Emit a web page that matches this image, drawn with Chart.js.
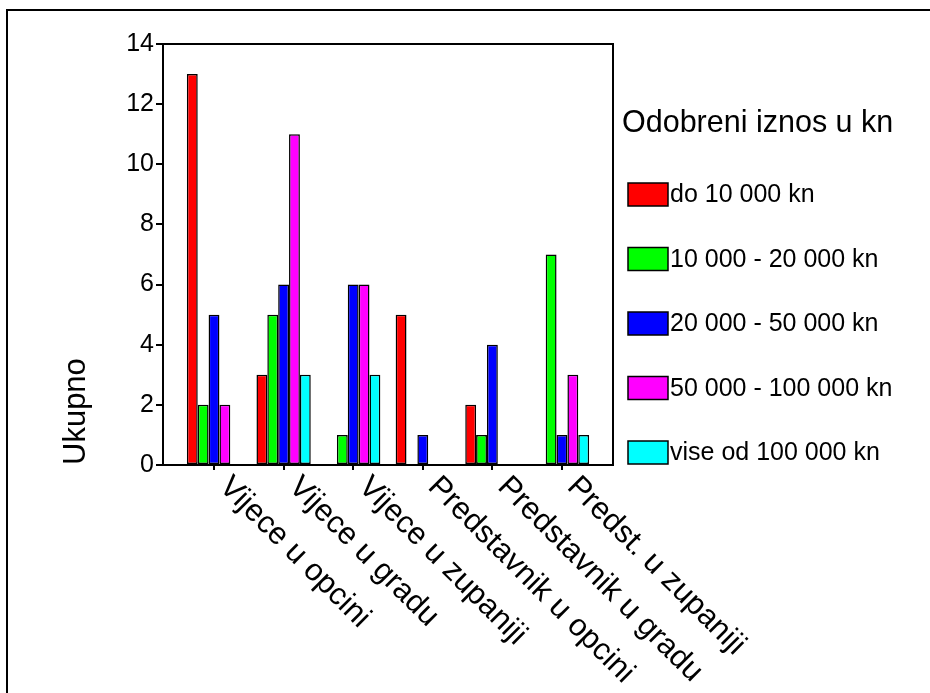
<!DOCTYPE html>
<html>
<head>
<meta charset="utf-8">
<title>Odobreni iznos u kn</title>
<script src="https://cdn.jsdelivr.net/npm/chart.js@4.4.1/dist/chart.umd.min.js"></script>
<style>
  html, body { margin: 0; padding: 0; background: #fff; }
</style>
</head>
<body>
<canvas id="chart" width="930" height="693"></canvas>
<script>
// categories and series
const categories = ['Vijece u opcini', 'Vijece u gradu', 'Vijece u zupaniji', 'Predstavnik u opcini', 'Predstavnik u gradu', 'Predst. u zupaniji'];
const seriesNames = ['do 10 000 kn', '10 000 - 20 000 kn', '20 000 - 50 000 kn', '50 000 - 100 000 kn', 'vise od 100 000 kn'];
const upTo10k = [13, 3, 0, 5, 2, 0];
const from10kTo20k = [2, 5, 1, 0, 1, 7];
const from20kTo50k = [5, 6, 6, 1, 4, 1];
const from50kTo100k = [2, 11, 6, 0, 0, 3];
const over100k = [0, 3, 3, 0, 0, 1];
const yTicks = [0, 2, 4, 6, 8, 10, 12, 14];
const legendTitle = 'Odobreni iznos u kn';
const yTitle = 'Ukupno';

const seriesValues = [upTo10k, from10kTo20k, from20kTo50k, from50kTo100k, over100k];
const colors = ['#ff0000', '#00ff00', '#0000ff', '#ff00ff', '#00ffff'];
const FONT = '"Liberation Sans", Arial, sans-serif';

Chart.defaults.color = '#000';
Chart.defaults.font.family = FONT;

// frame, slanted category labels and the legend box on the right
const decorPlugin = {
  id: 'decor',
  beforeDraw(chart) {
    const ctx = chart.ctx;
    ctx.save();
    ctx.strokeStyle = '#000';
    ctx.lineWidth = 2;
    ctx.beginPath();
    ctx.moveTo(7, chart.height);
    ctx.lineTo(7, 10);
    ctx.lineTo(chart.width, 10);
    ctx.stroke();
    ctx.restore();
  },
  afterDatasetsDraw(chart) {
    const ctx = chart.ctx;
    const a = chart.chartArea;
    ctx.save();
    ctx.strokeStyle = '#000';
    ctx.lineWidth = 2;
    ctx.strokeRect(a.left, a.top, a.right - a.left, a.bottom - a.top);
    ctx.restore();
  },
  afterDraw(chart) {
    const ctx = chart.ctx;
    const a = chart.chartArea;
    const xs = chart.scales.x;
    ctx.save();
    ctx.fillStyle = '#000';

    // category labels, slanted down to the right
    ctx.font = '31px ' + FONT;
    ctx.textAlign = 'left';
    ctx.textBaseline = 'top';
    categories.forEach((c, i) => {
      const px = xs.getPixelForValue(i);
      ctx.save();
      ctx.translate(px + 21, a.bottom + 6);
      ctx.rotate(Math.PI / 4);
      ctx.fillText(c, 0, 0);
      ctx.restore();
    });

    // legend
    const lx = a.right + 15;
    ctx.font = '30.5px ' + FONT;
    ctx.textBaseline = 'alphabetic';
    ctx.fillText(legendTitle, a.right + 9, 132);
    ctx.font = '25px ' + FONT;
    ctx.textBaseline = 'middle';
    ctx.lineWidth = 1.5;
    ctx.strokeStyle = '#000';
    chart.data.datasets.forEach((ds, i) => {
      const top = 183 + i * 64.5;
      ctx.fillStyle = ds.backgroundColor;
      ctx.fillRect(lx, top, 40, 23);
      ctx.strokeRect(lx, top, 40, 23);
      ctx.fillStyle = '#000';
      ctx.fillText(ds.label, lx + 42, top + 12.5);
    });
    ctx.restore();
  }
};

const datasets = seriesNames.map((name, k) => ({
  label: name,
  data: seriesValues[k].map((v, i) => ({ x: i, y: v })),
  backgroundColor: colors[k],
  borderColor: '#000',
  borderWidth: ctx => (ctx.raw && ctx.raw.y > 0 ? 1.5 : 0),
  inflateAmount: ctx => (ctx.raw && ctx.raw.y > 0 ? 'auto' : 0),
  borderSkipped: false,
  categoryPercentage: 0.78,
  barPercentage: 1
}));

new Chart(document.getElementById('chart'), {
  type: 'bar',
  data: { datasets },
  options: {
    responsive: false,
    animation: false,
    devicePixelRatio: 1,
    layout: { padding: { left: 54, top: 44, right: 317, bottom: 0 } },
    plugins: {
      legend: { display: false },
      tooltip: { enabled: false }
    },
    scales: {
      x: {
        type: 'linear',
        offset: false,
        min: -0.733,
        max: 5.733,
        afterBuildTicks: s => { s.ticks = categories.map((c, i) => ({ value: i })); },
        afterFit: s => { s.height = 228; },
        ticks: { display: false },
        border: { display: false },
        grid: { offset: false, drawOnChartArea: false, drawTicks: true, tickLength: 5, color: '#000', lineWidth: 2 }
      },
      y: {
        min: 0,
        max: 14,
        afterBuildTicks: s => { s.ticks = yTicks.map(v => ({ value: v })); },
        afterFit: s => { s.width = 163 - 54; },
        ticks: { font: { size: 25 }, padding: 2, color: '#000' },
        border: { display: false },
        grid: { drawOnChartArea: false, drawTicks: true, tickLength: 7, color: '#000', lineWidth: 2 },
        title: { display: true, text: yTitle, align: 'start', font: { size: 31 }, color: '#000', padding: { top: 4, bottom: 0 } }
      }
    }
  },
  plugins: [decorPlugin]
});
</script>
</body>
</html>
